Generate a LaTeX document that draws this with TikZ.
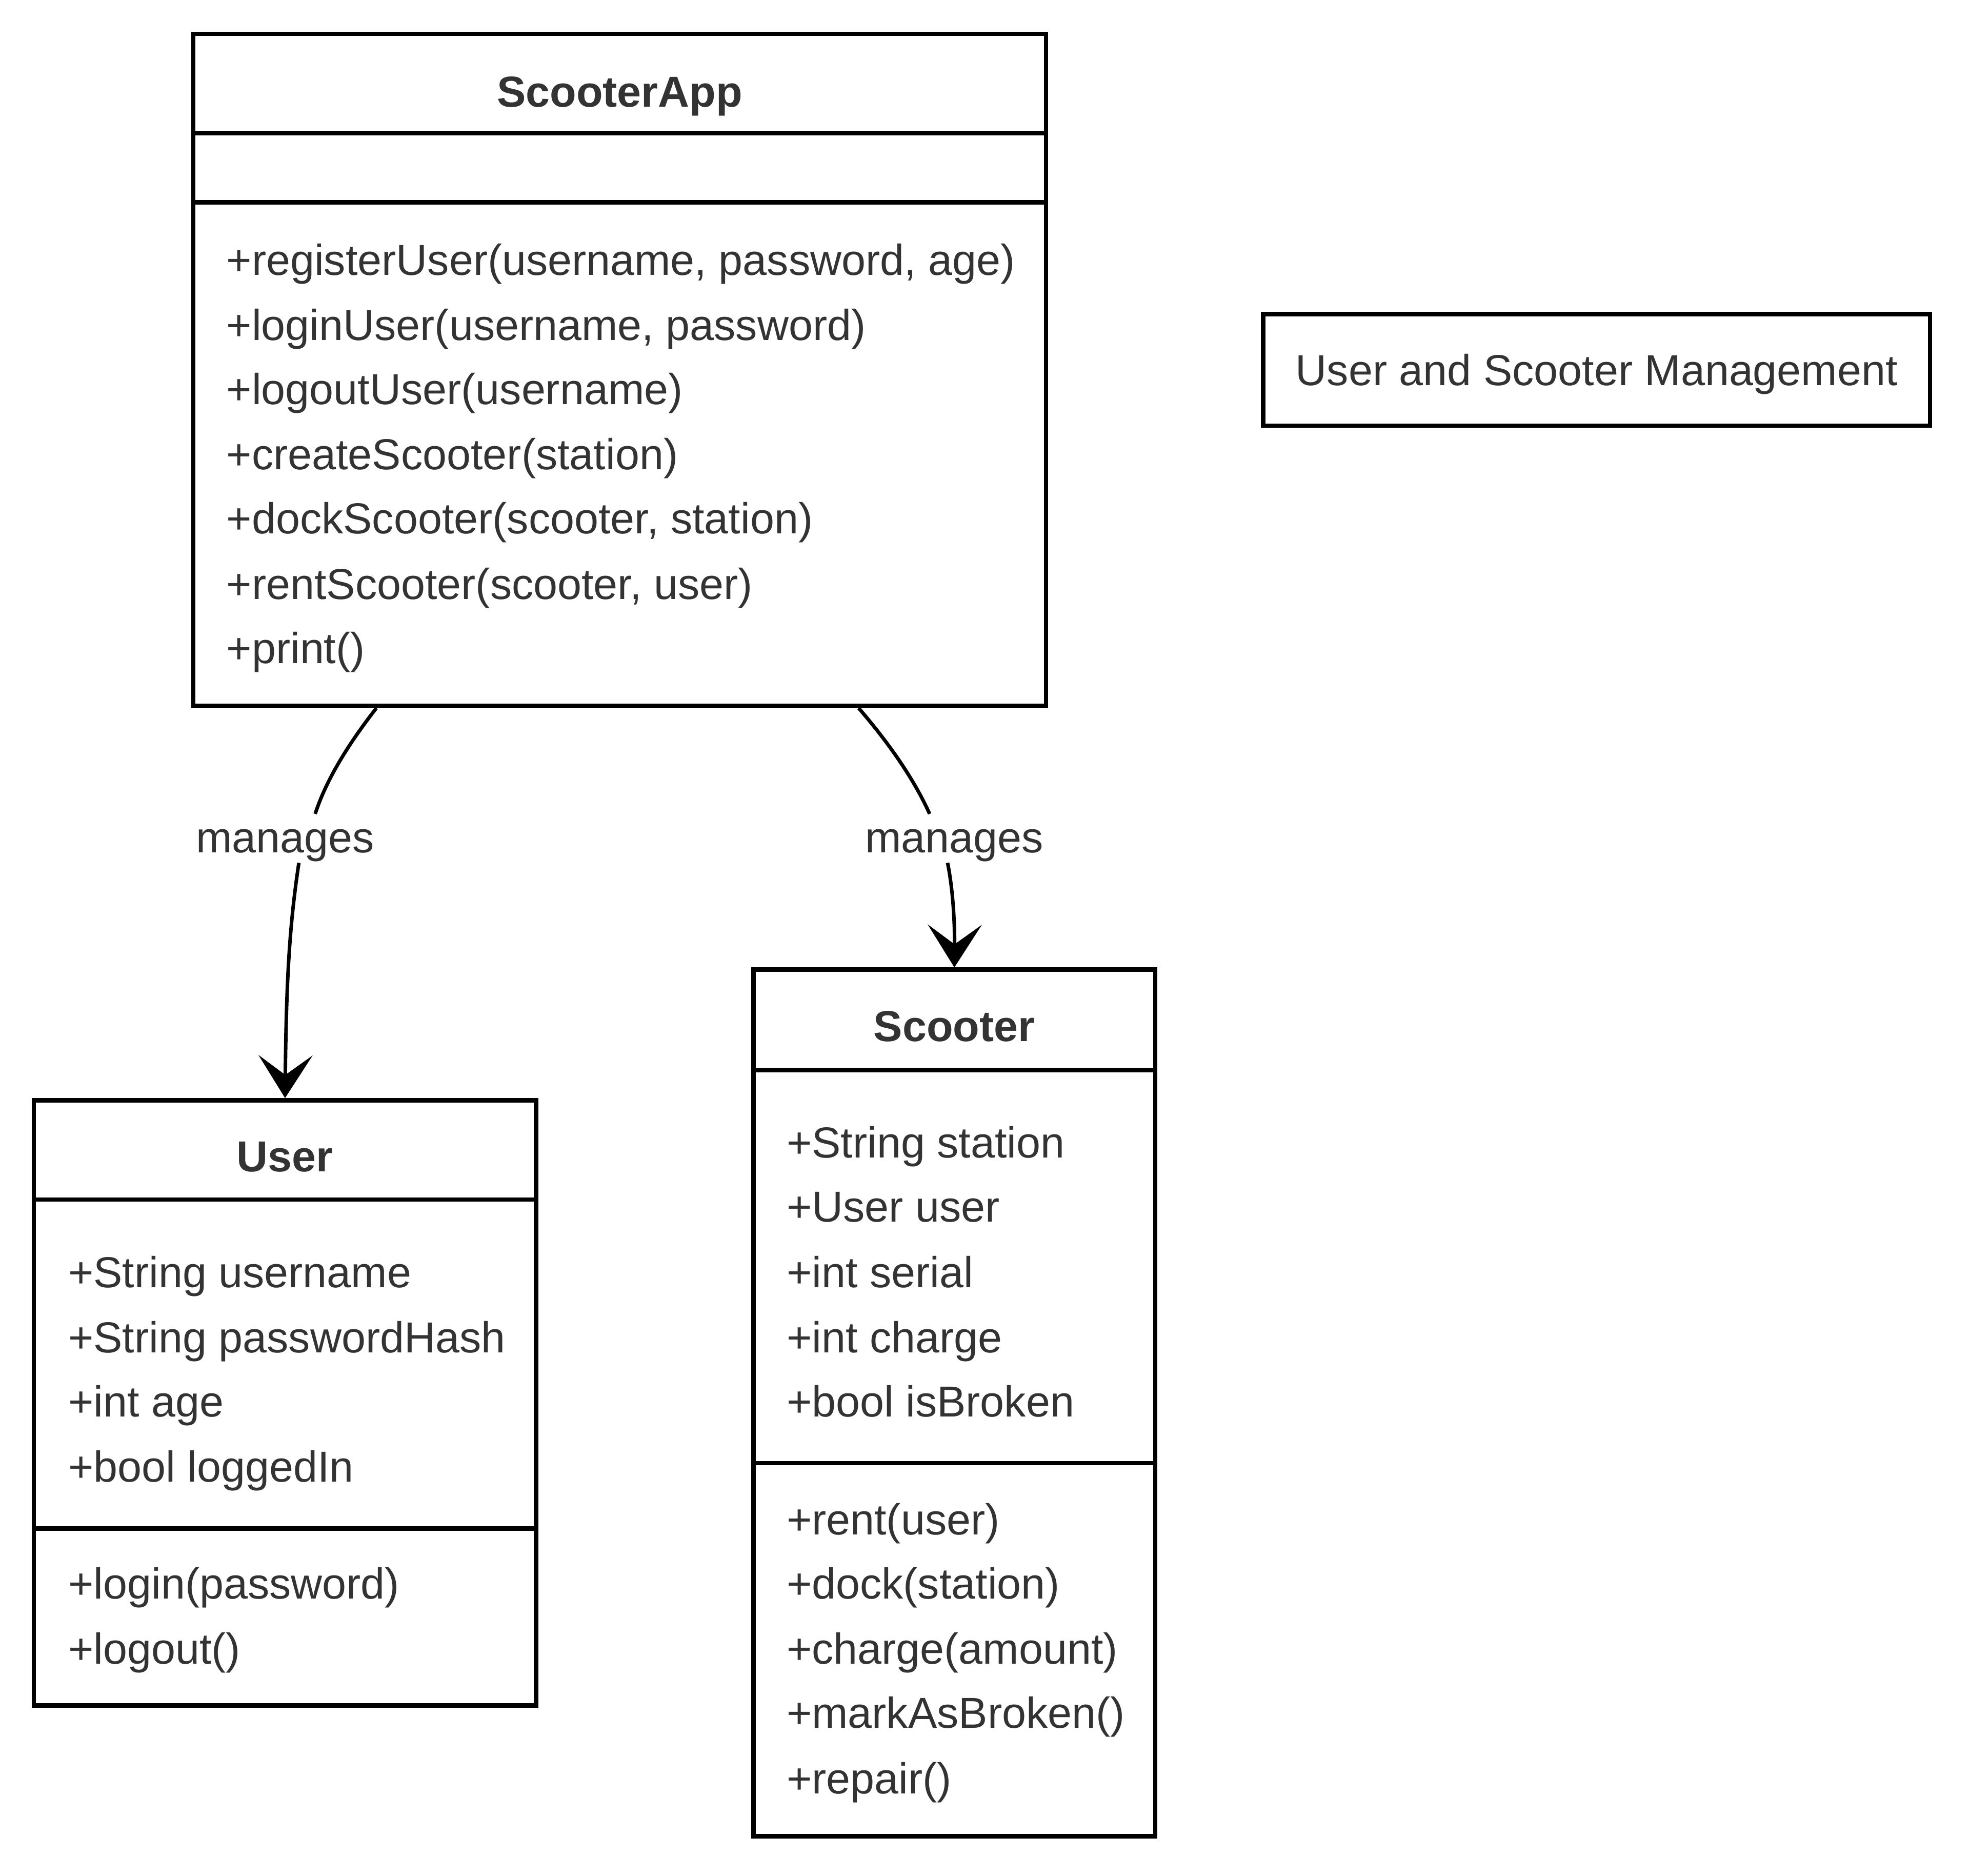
\documentclass[tikz,border=0pt]{standalone}
\usepackage{fontspec}
\setmainfont{Liberation Sans}
\usetikzlibrary{fit,arrows.meta}
\definecolor{txtgray}{HTML}{333333}
\begin{document}
\begin{tikzpicture}[x=0.5pt,y=-0.5pt,
  box/.style={draw=black, line width=1.75pt, inner sep=0pt, fill=white},
  divider/.style={draw=black, line width=1.75pt},
  txt/.style={font=\fontsize{17.25pt}{20pt}\selectfont, text=txtgray, inner sep=0pt, anchor=base west},
  title/.style={font=\fontsize{17.25pt}{20pt}\selectfont\bfseries, text=txtgray, inner sep=0pt, anchor=base},
  note/.style={font=\fontsize{17.25pt}{20pt}\selectfont, text=txtgray, inner sep=0pt, anchor=base},
  connline/.style={draw=black, line width=1.4pt},
  conn/.style={draw=black, line width=1.4pt, -{Stealth[length=17pt,width=21.5pt,inset=7.8pt]}},
  lbl/.style={font=\fontsize{17.25pt}{20pt}\selectfont, text=txtgray, inner sep=0pt, anchor=base}]
\fill[white] (0,0) rectangle (1568,1493.3);
\useasboundingbox (0,0) rectangle (1568,1493.3);

% ScooterApp
\node[box, fit={(154,27) (833,562)}] (app) {};
\draw[divider] (154,106) -- (833,106);
\draw[divider] (154,161) -- (833,161);
\node[title] (appT) at (493.5,85) {ScooterApp};
\node[txt] (appM1) at (180,219) {+registerUser(username, password, age)};
\node[txt] (appM2) at (180,271) {+loginUser(username, password)};
\node[txt] (appM3) at (180,322) {+logoutUser(username)};
\node[txt] (appM4) at (180,374) {+createScooter(station)};
\node[txt] (appM5) at (180,425) {+dockScooter(scooter, station)};
\node[txt] (appM6) at (180,477) {+rentScooter(scooter, user)};
\node[txt] (appM7) at (180,528) {+print()};

% User
\node[box, fit={(27,876) (427,1358)}] (user) {};
\draw[divider] (27,955) -- (427,955);
\draw[divider] (27,1217) -- (427,1217);
\node[title] (userT) at (227,933) {User};
\node[txt] (userA1) at (54,1025) {+String username};
\node[txt] (userA2) at (54,1077) {+String passwordHash};
\node[txt] (userA3) at (54,1128) {+int age};
\node[txt] (userA4) at (54,1180) {+bool loggedIn};
\node[txt] (userM1) at (54,1273) {+login(password)};
\node[txt] (userM2) at (54,1325) {+logout()};

% Scooter
\node[box, fit={(600,772) (920,1462)}] (scooter) {};
\draw[divider] (600,852) -- (920,852);
\draw[divider] (600,1165) -- (920,1165);
\node[title] (scT) at (760,829) {Scooter};
\node[txt] (scA1) at (626,922) {+String station};
\node[txt] (scA2) at (626,973) {+User user};
\node[txt] (scA3) at (626,1025) {+int serial};
\node[txt] (scA4) at (626,1077) {+int charge};
\node[txt] (scA5) at (626,1128) {+bool isBroken};
\node[txt] (scM1) at (626,1222) {+rent(user)};
\node[txt] (scM2) at (626,1273) {+dock(station)};
\node[txt] (scM3) at (626,1325) {+charge(amount)};
\node[txt] (scM4) at (626,1376) {+markAsBroken()};
\node[txt] (scM5) at (626,1428) {+repair()};

% Note
\node[box, fit={(1006,250) (1537,339)}] (notebox) {};
\node[note] (noteT) at (1271.5,307) {User and Scooter Management};

% Labels
\node[lbl] (lbl1) at (227,679) {manages};
\node[lbl] (lbl2) at (760,679) {manages};
\coordinate (l1top) at (251,648);
\coordinate (l1bot) at (238,687);
\coordinate (l2top) at (740.3,648);
\coordinate (l2bot) at (754.6,687);

% Connectors (broken where the label sits)
\draw[connline] ([xshift=73.75pt]app.south west) .. controls (278.5,591) and (260,620) .. (l1top);
\draw[conn] (l1bot) .. controls (230.5,737) and (228,780) .. (user.north);
\draw[connline] ([xshift=265.75pt]app.south west) .. controls (707.3,591) and (727.7,620) .. (l2top);
\draw[conn] (l2bot) .. controls (759,709) and (760.3,735) .. (scooter.north);
\end{tikzpicture}
\end{document}
